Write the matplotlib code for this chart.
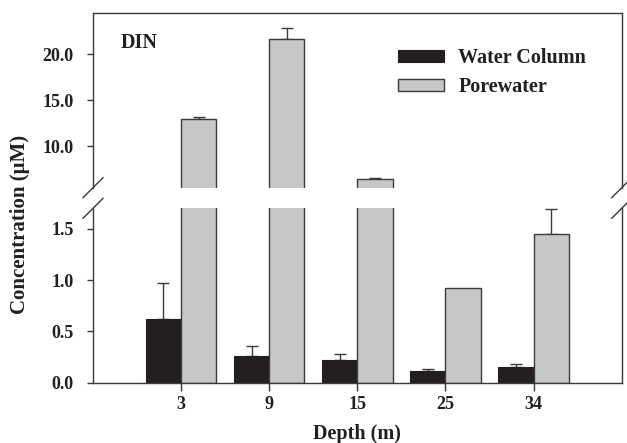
import numpy as np
import matplotlib
matplotlib.use('Agg')
import matplotlib.pyplot as plt
from matplotlib.patches import Patch

# Daten
depths = ['3', '9', '15', '25', '34']
water_column = [0.62, 0.26, 0.22, 0.11, 0.15]
water_column_err = [0.35, 0.10, 0.06, 0.02, 0.03]
porewater = [12.95, 21.65, 6.38, 0.92, 1.445]
porewater_err = [0.25, 1.25, 0.14, 0.0, 0.245]

plt.rcParams['font.family'] = ['Liberation Serif', 'DejaVu Serif']
plt.rcParams['font.weight'] = 'bold'
plt.rcParams['text.color'] = '#231f20'

W, H = 627, 443
fig = plt.figure(figsize=(W / 100, H / 100), dpi=100)

left, right = 93 / W, 621.7 / W
ax_top = fig.add_axes([left, 1 - 187.7 / H, right - left, (187.7 - 13.3) / H])
ax_bot = fig.add_axes([left, 1 - 382.7 / H, right - left, (382.7 - 208.3) / H])

x = np.arange(len(depths))
w = 0.4
black = '#231f20'
grey = '#c6c7c9'
edge = '#3a3a3a'

for ax in (ax_top, ax_bot):
    ax.bar(x - w / 2, water_column, w, color=black, edgecolor=black, linewidth=0.8, zorder=2)
    ax.bar(x + w / 2, porewater, w, color=grey, edgecolor=edge, linewidth=1.0, zorder=2)
    ax.errorbar(x - w / 2, water_column, yerr=[np.zeros(5), water_column_err], fmt='none',
                ecolor=edge, elinewidth=1.0, capsize=4.3, capthick=1.0, zorder=1)
    pe = np.array(porewater_err)
    m = pe > 0
    ax.errorbar((x + w / 2)[m], np.array(porewater)[m], yerr=[np.zeros(m.sum()), pe[m]], fmt='none',
                ecolor=edge, elinewidth=1.0, capsize=4.3, capthick=1.0, zorder=1)
    ax.set_xlim(-1, 5)
    for s in ax.spines.values():
        s.set_color(edge)
        s.set_linewidth(1.0)
    ax.tick_params(axis='y', direction='out', length=4.3, width=1.0, color=edge,
                   labelsize=13, pad=9.5, labelcolor=black)

ax_top.set_ylim(5.47, 24.46)
ax_top.set_yticks([10, 15, 20])
ax_top.set_yticklabels(['10.0', '15.0', '20.0'])
ax_top.spines['bottom'].set_visible(False)
ax_top.tick_params(axis='x', bottom=False, labelbottom=False)

ax_bot.set_ylim(0, 1.70)
ax_bot.set_yticks([0, 0.5, 1.0, 1.5])
ax_bot.set_yticklabels(['0.0', '0.5', '1.0', '1.5'])
ax_bot.spines['top'].set_visible(False)
ax_bot.set_xticks(x)
ax_bot.set_xticklabels(depths)
ax_bot.tick_params(axis='x', direction='out', length=5.8, width=1.0, color=edge,
                   labelsize=13, pad=4, labelcolor=black)

# Bruchmarkierungen
dx = 10 / (621.7 - 93)
dy = 10 / 174.4
kw = dict(color=edge, linewidth=1.0, clip_on=False)
for xc in (0, 1):
    ax_top.plot([xc - dx, xc + dx], [-dy, dy], transform=ax_top.transAxes, **kw)
    ax_bot.plot([xc - dx, xc + dx], [1 - dy, 1 + dy], transform=ax_bot.transAxes, **kw)

fig.text(120.7 / W, 1 - 48.3 / H, 'DIN', fontsize=14.5, fontweight='bold', va='baseline', ha='left')
fig.text(20 / W, 1 - 224 / H, 'Concentration (μM)', fontsize=15, fontweight='bold',
         rotation=90, ha='center', va='center')
fig.text(357 / W, 1 - 434 / H, 'Depth (m)', fontsize=14.5, fontweight='bold', ha='center', va='center')

handles = [Patch(facecolor=black, edgecolor=black, linewidth=0.8),
           Patch(facecolor=grey, edgecolor=edge, linewidth=1.0)]
fig.legend(handles, ['Water Column', 'Porewater'], loc='upper left',
           bbox_to_anchor=(398 / W, 1 - 48 / H), frameon=False, fontsize=14.5,
           handlelength=2.3, handleheight=0.6, handletextpad=0.7, labelspacing=0.45,
           borderpad=0, borderaxespad=0)

fig.savefig('out.png', dpi=100)
